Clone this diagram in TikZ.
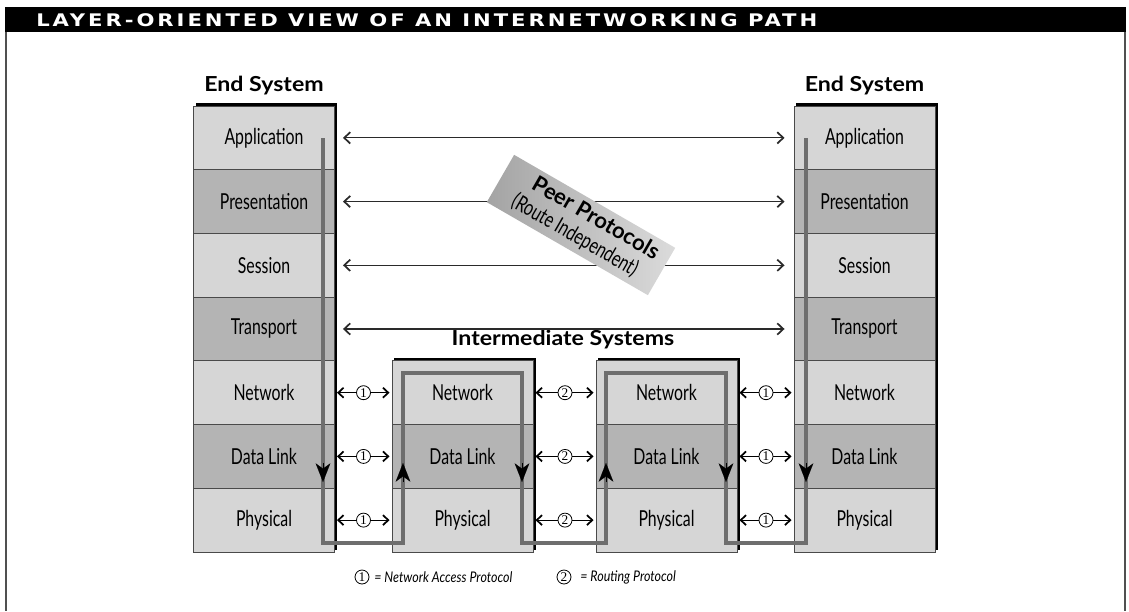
\documentclass[tikz,border=0pt]{standalone}
\usepackage{fontspec}
\setmainfont{Lato}
\newfontfamily\condf{Lato}[FakeStretch=0.72]
\newfontfamily\legf{Lato}[FakeStretch=0.85]
\newfontfamily\headf{Lato}[FakeStretch=1.12]
\newfontfamily\titlef{DejaVu Sans}[FakeStretch=1.22,LetterSpace=17]
\newfontfamily\numf{Liberation Serif}
\usetikzlibrary{arrows.meta,calc,backgrounds}
\definecolor{lightrow}{HTML}{D6D6D6}
\definecolor{darkrow}{HTML}{B4B4B4}
\definecolor{edgegray}{HTML}{4A4A4A}
\definecolor{pathgray}{HTML}{6E6E6E}
\definecolor{peerline}{HTML}{2A2A2A}
\definecolor{framegray}{HTML}{505050}
\begin{document}
\begin{tikzpicture}[x=0.75pt,y=-0.75pt,
  layer/.style={draw=edgegray, line width=0.7pt, minimum width=105.75pt, minimum height=47.78pt,
    inner sep=0pt, font=\condf\fontsize{16.5}{16.5}\selectfont, text=black},
  lt/.style={layer, fill=lightrow},
  dk/.style={layer, fill=darkrow},
  heading/.style={font=\headf\bfseries\fontsize{15.5}{15.5}\selectfont},
  peerarrow/.style={draw=peerline, line width=0.9pt,
    {Straight Barb[length=4.5pt,width=8.5pt,line width=1.3pt]}-{Straight Barb[length=4.5pt,width=8.5pt,line width=1.3pt]},
    shorten <=6pt, shorten >=6.75pt},
  smallarrow/.style={draw=black, line width=0.8pt,
    -{Straight Barb[length=4pt,width=7.5pt,line width=1.3pt]}, shorten >=1.5pt},
  circ/.style={circle, draw=black, line width=0.6pt, inner sep=0pt, minimum size=10.5pt,
    font=\numf\fontsize{10}{10}\selectfont},
  flow/.style={draw=pathgray, line width=3pt, line join=miter},
  flowtip/.style={draw=black, line width=0.1pt, -{Stealth[length=14pt,width=11pt,inset=4pt]}},
  shadowbox/.style={fill=black},
  peerlbl/.style={minimum width=139.5pt, minimum height=41pt, inner sep=0pt, align=center,
    left color=black!36, right color=black!14},
]
\useasboundingbox (0,0) rectangle (1129,611);
% frame
\fill[black] (5,7) rectangle (1126,32);
\draw[framegray, line width=1.5pt] (6,32) -- (6,611);
\draw[framegray, line width=1.5pt] (1125,32) -- (1125,611);
\node[anchor=west, text=white, font=\titlef\bfseries\fontsize{13}{13}\selectfont, inner sep=0pt] (title) at (36,20) {LAYER-ORIENTED VIEW OF AN INTERNETWORKING PATH};

% end systems
\foreach \i/\t/\s in {1/Application/lt,2/Presentation/dk,3/Session/lt,4/Transport/dk,5/Network/lt,6/Data Link/dk,7/Physical/lt}{
  \node[\s] (L\i) at (264,{106+63.71*(\i-0.5)}) {\t};
  \node[\s] (R\i) at (864.5,{106+63.71*(\i-0.5)}) {\t};
}
\foreach \i/\t/\s in {5/Network/lt,6/Data Link/dk,7/Physical/lt}{
  \node[\s] (I\i) at (462.5,{106+63.71*(\i-0.5)}) {\t};
  \node[\s] (J\i) at (666.5,{106+63.71*(\i-0.5)}) {\t};
}
\begin{scope}[on background layer]
  \fill[shadowbox] ($(L1.north west)+(2.5,-2.5)$) rectangle ($(L7.south east)+(2.5,-2.5)$);
  \fill[shadowbox] ($(R1.north west)+(2.5,-2.5)$) rectangle ($(R7.south east)+(2.5,-2.5)$);
  \fill[shadowbox] ($(I5.north west)+(2.5,-2.5)$) rectangle ($(I7.south east)+(2.5,-2.5)$);
  \fill[shadowbox] ($(J5.north west)+(2.5,-2.5)$) rectangle ($(J7.south east)+(2.5,-2.5)$);
\end{scope}

% headings
\node[heading] (hl) at (264,86) {End System};
\node[heading] (hr) at (864.5,86) {End System};
\node[heading] (hi) at (563,340) {Intermediate Systems};

% peer protocol arrows
\foreach \i in {1,2,3,4}{
  \draw[peerarrow] (L\i) -- (R\i);
}

% peer protocols label
\node[peerlbl, rotate=-30] (pp) at (581,225)
  {\hspace*{14pt}{\bfseries\fontsize{16.5}{17}\selectfont Peer Protocols}\\[5pt]{\condf\fontsize{16.5}{16.5}\selectfont (Route Independent)}};

% small protocol arrows
\foreach \i in {5,6,7}{
  \node[circ] (a\i) at (363.5,{106+63.71*(\i-0.5)}) {1};
  \node[circ] (b\i) at (565,{106+63.71*(\i-0.5)}) {2};
  \node[circ] (c\i) at (766,{106+63.71*(\i-0.5)}) {1};
  \draw[smallarrow] (a\i) -- (L\i);
  \draw[smallarrow] (a\i) -- (I\i);
  \draw[smallarrow] (b\i) -- (I\i);
  \draw[smallarrow] (b\i) -- (J\i);
  \draw[smallarrow] (c\i) -- (J\i);
  \draw[smallarrow] (c\i) -- (R\i);
}

% data flow path
\coordinate (p0) at (323,138);
\coordinate (p1) at (323,543);
\coordinate (p2) at (403,543);
\coordinate (p3) at (403,373);
\coordinate (p4) at (522,373);
\coordinate (p5) at (522,543);
\coordinate (p6) at (606,543);
\coordinate (p7) at (606,373);
\coordinate (p8) at (726,373);
\coordinate (p9) at (726,543);
\coordinate (p10) at (806,543);
\coordinate (p11) at (806,138);
\draw[flow] (p0) -- (p1) -- (p2) -- (p3) -- (p4) -- (p5) -- (p6) -- (p7) -- (p8) -- (p9) -- (p10) -- (p11);
\draw[flowtip] (323,463) -- (323,482);
\draw[flowtip] (403,482) -- (403,463);
\draw[flowtip] (522,463) -- (522,482);
\draw[flowtip] (606,482) -- (606,463);
\draw[flowtip] (726,463) -- (726,482);
\draw[flowtip] (806,463) -- (806,482);

% legend
\node[circ] (k1) at (362,577) {1};
\node[anchor=west, font=\legf\itshape\fontsize{11}{11}\selectfont, inner sep=0pt] (k1t) at (374,577) {= Network Access Protocol};
\node[circ] (k2) at (564,577) {2};
\node[anchor=west, font=\legf\itshape\fontsize{11}{11}\selectfont, inner sep=0pt] (k2t) at (580,577) {= Routing Protocol};
\end{tikzpicture}
\end{document}
